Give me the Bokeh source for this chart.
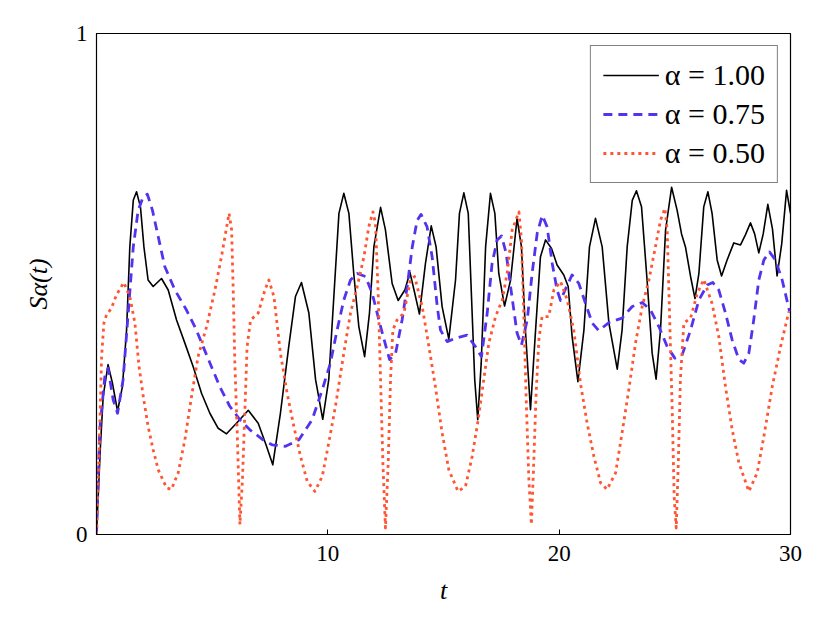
from bokeh.plotting import figure
from bokeh.models import Legend, LegendItem, FixedTicker
from bokeh.embed import file_html
from bokeh.resources import INLINE

# alpha = 1.00
t1 = [0.0, 0.17, 0.29, 0.50, 0.69, 0.91, 1.12, 1.30, 1.44, 1.59, 1.73, 1.90, 2.05, 2.23, 2.45, 2.81, 3.10, 3.46, 3.82, 4.18, 4.54, 4.90, 5.26, 5.62, 6.05, 6.56, 6.99, 7.35, 7.62, 7.95, 8.31, 8.60, 8.86, 9.18, 9.47, 9.78, 10.04, 10.26, 10.48, 10.69, 10.91, 11.12, 11.34, 11.59, 11.80, 11.99, 12.28, 12.49, 12.78, 13.04, 13.33, 13.55, 13.76, 13.96, 14.22, 14.47, 14.68, 14.94, 15.23, 15.52, 15.69, 15.88, 16.07, 16.21, 16.35, 16.48, 16.63, 16.82, 17.03, 17.22, 17.39, 17.64, 17.90, 18.18, 18.37, 18.54, 18.76, 18.98, 19.19, 19.41, 19.67, 19.91, 20.20, 20.39, 20.56, 20.81, 21.07, 21.31, 21.57, 21.86, 22.15, 22.51, 22.72, 22.94, 23.16, 23.34, 23.56, 23.80, 24.02, 24.19, 24.38, 24.60, 24.86, 25.10, 25.29, 25.46, 25.68, 25.87, 26.04, 26.25, 26.43, 26.61, 26.83, 27.02, 27.26, 27.55, 27.84, 28.05, 28.27, 28.45, 28.63, 28.82, 29.02, 29.22, 29.42, 29.62, 29.83, 30.0]
s1 = [0.0, 0.176, 0.276, 0.339, 0.302, 0.246, 0.295, 0.408, 0.574, 0.667, 0.684, 0.654, 0.574, 0.508, 0.495, 0.511, 0.488, 0.428, 0.382, 0.335, 0.282, 0.242, 0.212, 0.201, 0.222, 0.248, 0.222, 0.176, 0.139, 0.242, 0.375, 0.475, 0.503, 0.442, 0.309, 0.230, 0.309, 0.475, 0.641, 0.681, 0.641, 0.521, 0.415, 0.355, 0.442, 0.574, 0.653, 0.608, 0.501, 0.467, 0.488, 0.523, 0.481, 0.440, 0.541, 0.616, 0.574, 0.455, 0.390, 0.508, 0.641, 0.682, 0.641, 0.475, 0.309, 0.229, 0.342, 0.574, 0.681, 0.641, 0.521, 0.456, 0.508, 0.631, 0.574, 0.408, 0.249, 0.408, 0.554, 0.588, 0.571, 0.538, 0.518, 0.495, 0.395, 0.305, 0.408, 0.574, 0.631, 0.574, 0.422, 0.330, 0.408, 0.574, 0.667, 0.686, 0.654, 0.508, 0.362, 0.310, 0.408, 0.608, 0.693, 0.647, 0.600, 0.574, 0.515, 0.471, 0.521, 0.654, 0.684, 0.641, 0.548, 0.516, 0.548, 0.582, 0.578, 0.598, 0.622, 0.600, 0.562, 0.600, 0.659, 0.610, 0.516, 0.580, 0.687, 0.641]

# alpha = 0.75
t2 = [0.0, 0.14, 0.36, 0.50, 0.72, 0.91, 1.15, 1.37, 1.59, 1.80, 2.02, 2.20, 2.42, 2.67, 2.95, 3.39, 3.89, 4.32, 4.61, 4.97, 5.33, 5.76, 6.20, 6.63, 7.20, 7.59, 8.17, 8.75, 9.32, 9.76, 10.11, 10.40, 10.69, 10.98, 11.27, 11.63, 11.92, 12.28, 12.67, 12.93, 13.21, 13.43, 13.65, 13.86, 14.03, 14.29, 14.51, 14.73, 14.87, 15.16, 15.52, 16.02, 16.38, 16.64, 16.89, 17.10, 17.32, 17.51, 17.71, 17.94, 18.18, 18.37, 18.62, 18.83, 19.05, 19.27, 19.48, 19.70, 19.91, 20.06, 20.32, 20.56, 20.85, 21.14, 21.43, 21.71, 22.15, 22.72, 23.16, 23.59, 23.95, 24.31, 24.67, 25.00, 25.32, 25.68, 26.04, 26.40, 26.64, 26.90, 27.19, 27.48, 27.77, 27.98, 28.20, 28.41, 28.63, 28.85, 29.09, 29.35, 29.64, 29.96]
s2 = [0.0, 0.209, 0.315, 0.332, 0.269, 0.242, 0.309, 0.442, 0.574, 0.647, 0.674, 0.679, 0.647, 0.594, 0.535, 0.488, 0.448, 0.408, 0.375, 0.335, 0.295, 0.256, 0.229, 0.209, 0.189, 0.179, 0.176, 0.189, 0.229, 0.289, 0.342, 0.408, 0.468, 0.508, 0.521, 0.515, 0.481, 0.415, 0.349, 0.362, 0.428, 0.495, 0.574, 0.627, 0.639, 0.614, 0.554, 0.455, 0.408, 0.385, 0.392, 0.398, 0.375, 0.355, 0.442, 0.541, 0.588, 0.596, 0.561, 0.481, 0.402, 0.378, 0.428, 0.521, 0.601, 0.637, 0.614, 0.541, 0.488, 0.467, 0.495, 0.518, 0.501, 0.461, 0.422, 0.407, 0.423, 0.432, 0.455, 0.463, 0.448, 0.415, 0.375, 0.352, 0.359, 0.408, 0.468, 0.498, 0.503, 0.488, 0.442, 0.388, 0.349, 0.342, 0.362, 0.428, 0.508, 0.548, 0.564, 0.548, 0.508, 0.445]

# alpha = 0.50
t3 = [0.0, 0.12, 0.22, 0.32, 0.43, 0.65, 0.86, 1.18, 1.44, 1.66, 1.84, 2.02, 2.23, 2.45, 2.67, 3.03, 3.24, 3.53, 3.82, 4.11, 4.39, 4.76, 5.12, 5.40, 5.73, 5.84, 5.91, 5.98, 6.08, 6.20, 6.31, 6.41, 6.51, 6.66, 6.99, 7.28, 7.45, 7.67, 7.95, 8.24, 8.53, 8.82, 9.11, 9.44, 9.76, 10.04, 10.33, 10.69, 10.98, 11.27, 11.56, 11.77, 11.95, 12.06, 12.18, 12.28, 12.38, 12.49, 12.61, 12.71, 12.81, 12.99, 13.29, 13.57, 13.75, 14.08, 14.37, 14.65, 14.94, 15.23, 15.63, 15.95, 16.24, 16.50, 16.74, 16.96, 17.25, 17.54, 17.75, 17.97, 18.26, 18.37, 18.47, 18.57, 18.69, 18.80, 18.90, 19.00, 19.12, 19.26, 19.55, 19.77, 20.06, 20.35, 20.63, 20.92, 21.21, 21.50, 21.79, 22.07, 22.44, 22.72, 23.01, 23.30, 23.59, 23.88, 24.16, 24.38, 24.57, 24.67, 24.77, 24.89, 24.97, 25.06, 25.15, 25.24, 25.39, 25.68, 25.97, 26.25, 26.61, 26.90, 27.19, 27.48, 27.77, 28.20, 28.56, 28.85, 29.21, 29.57, 29.93]
s3 = [0.0, 0.176, 0.355, 0.422, 0.438, 0.452, 0.478, 0.503, 0.475, 0.422, 0.335, 0.276, 0.216, 0.169, 0.129, 0.093, 0.090, 0.123, 0.189, 0.276, 0.355, 0.415, 0.488, 0.554, 0.641, 0.608, 0.488, 0.342, 0.209, 0.020, 0.110, 0.242, 0.375, 0.428, 0.442, 0.488, 0.508, 0.475, 0.362, 0.282, 0.216, 0.156, 0.106, 0.086, 0.116, 0.183, 0.256, 0.362, 0.442, 0.495, 0.554, 0.614, 0.644, 0.621, 0.475, 0.309, 0.143, 0.013, 0.143, 0.309, 0.408, 0.428, 0.442, 0.508, 0.515, 0.455, 0.375, 0.295, 0.203, 0.129, 0.086, 0.096, 0.156, 0.229, 0.309, 0.382, 0.435, 0.468, 0.521, 0.608, 0.644, 0.588, 0.442, 0.276, 0.110, 0.020, 0.143, 0.276, 0.388, 0.435, 0.435, 0.488, 0.505, 0.468, 0.408, 0.302, 0.222, 0.156, 0.103, 0.090, 0.123, 0.203, 0.289, 0.382, 0.455, 0.508, 0.574, 0.627, 0.651, 0.608, 0.442, 0.242, 0.076, 0.013, 0.143, 0.309, 0.422, 0.432, 0.481, 0.509, 0.461, 0.395, 0.295, 0.209, 0.143, 0.086, 0.123, 0.196, 0.295, 0.375, 0.445]

labels = ["α = 1.00", "α = 0.75", "α = 0.50"]
x_ticks = [10, 20, 30]
y_ticks = [0, 1]

FONT = "Liberation Serif"

p = figure(width=810, height=607, x_range=(0, 30), y_range=(0, 1),
           output_backend="svg", toolbar_location=None,
           min_border_left=96, min_border_right=20, min_border_top=33, min_border_bottom=70)
p.xgrid.visible = False
p.ygrid.visible = False
p.outline_line_color = "black"
p.outline_line_width = 1.2

r1 = p.line(t1, s1, line_color="black", line_width=1.6, line_join="round")
r2 = p.line(t2, s2, line_color="#5533ee", line_width=2.8, line_dash="9 6", line_join="round")
r3 = p.line(t3, s3, line_color="#ff5533", line_width=2.8, line_dash="3 4", line_join="round")

for ax in (p.xaxis[0], p.yaxis[0]):
    ax.major_label_text_font = FONT
    ax.major_label_text_font_size = "23px"
    ax.major_label_text_color = "black"
    ax.axis_label_text_font = FONT
    ax.axis_label_text_font_size = "26px"
    ax.axis_label_text_font_style = "italic"
    ax.axis_label_text_color = "black"
    ax.axis_line_color = "black"
    ax.major_tick_line_color = "black"
    ax.major_tick_in = 5
    ax.major_tick_out = 0
    ax.minor_tick_line_color = None

p.xaxis.ticker = FixedTicker(ticks=x_ticks)
p.yaxis.ticker = FixedTicker(ticks=y_ticks)
p.xaxis.axis_label = "t"
p.yaxis.axis_label = "Sα(t)"
p.xaxis.axis_label_standoff = 12
p.yaxis.axis_label_standoff = 20
p.xaxis.major_label_standoff = 11
p.yaxis.major_label_standoff = 9

legend = Legend(items=[LegendItem(label=labels[0], renderers=[r1]),
                       LegendItem(label=labels[1], renderers=[r2]),
                       LegendItem(label=labels[2], renderers=[r3])],
                location="top_right")
legend.label_text_font = FONT
legend.label_text_font_size = "30px"
legend.label_text_color = "black"
legend.border_line_color = "black"
legend.border_line_width = 1.2
legend.glyph_width = 56
legend.glyph_height = 32
legend.label_height = 32
legend.label_standoff = 6
legend.spacing = 5
legend.padding = 12
legend.margin = 12
legend.background_fill_alpha = 1.0
p.add_layout(legend)

open("out.html", "w").write(file_html(p, INLINE))
